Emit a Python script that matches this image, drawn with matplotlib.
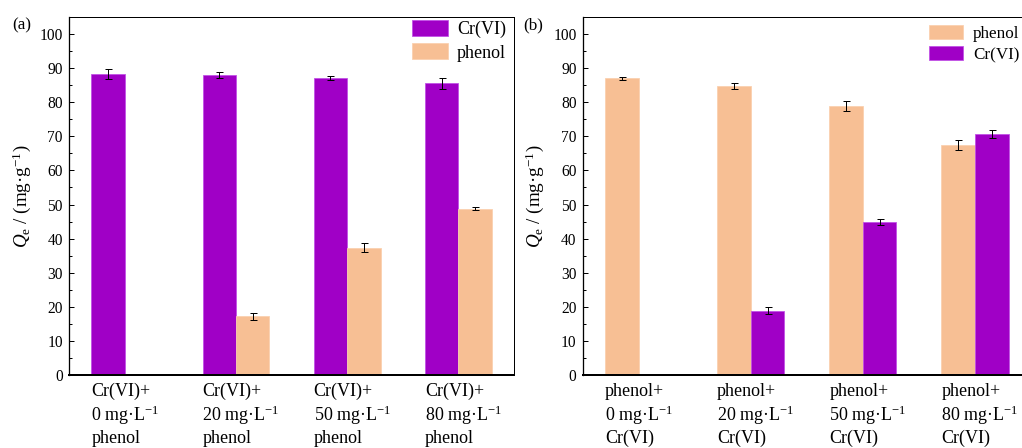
import numpy as np
import matplotlib
matplotlib.use("Agg")
import matplotlib.pyplot as plt
from matplotlib.ticker import MultipleLocator

plt.rcParams["font.family"] = ["Liberation Serif", "DejaVu Serif"]
plt.rcParams["mathtext.fontset"] = "custom"
plt.rcParams["mathtext.rm"] = "Liberation Serif"
plt.rcParams["mathtext.it"] = "Liberation Serif:italic"

# Data
concentrations = ["0", "20", "50", "80"]

cr_a = [88.2, 87.9, 87.1, 85.5]
cr_a_err = [1.5, 0.9, 0.7, 1.6]
phenol_a = [0.0, 17.2, 37.3, 48.8]
phenol_a_err = [0.0, 1.1, 1.35, 0.4]

phenol_b = [87.0, 84.8, 79.0, 67.4]
phenol_b_err = [0.4, 0.8, 1.5, 1.4]
cr_b = [0.0, 18.9, 45.0, 70.6]
cr_b_err = [0.0, 1.0, 0.9, 1.2]

PURPLE = "#A000C6"
PEACH = "#F7BF94"

W, H, DPI = 1022, 448, 72
fig = plt.figure(figsize=(W / DPI, H / DPI), dpi=DPI)

ax_a = fig.add_axes([69 / W, 1 - 375 / H, (514 - 69) / W, (375 - 17) / H])
ax_b = fig.add_axes([582.5 / W, 1 - 375 / H, (1031 - 582.5) / W, (375 - 17) / H])

width = 0.3
x = np.arange(len(concentrations))


def draw_bars(ax, vals, errs, color, edge, offset, label):
    ax.bar(x + offset, vals, width, color=color, edgecolor=edge,
           linewidth=0.8, label=label, zorder=2)
    for xi, v, e in zip(x, vals, errs):
        if v > 0:
            ax.errorbar(xi + offset, v, yerr=e, fmt="none", ecolor="black",
                        elinewidth=1.0, capsize=3.5, capthick=1.0, zorder=3)


def style_axes(ax, first, second):
    ax.set_xlim(-0.5, 3.5)
    ax.set_ylim(0, 105)
    ax.yaxis.set_major_locator(MultipleLocator(10))
    ax.yaxis.set_minor_locator(MultipleLocator(5))
    ax.set_yticks(np.arange(0, 101, 10))
    ax.tick_params(axis="y", which="major", direction="in", length=5,
                   width=1.0, labelsize=15.5, pad=6)
    ax.tick_params(axis="y", which="minor", direction="in", length=3, width=1.0)
    ax.tick_params(axis="x", which="both", bottom=False, labelbottom=False)
    ax.spines["bottom"].set_linewidth(2.0)
    ax.spines["left"].set_linewidth(1.3)
    ax.spines["top"].set_linewidth(1.0)
    ax.spines["right"].set_linewidth(1.0)
    ax.set_ylabel(r"$Q_{\mathrm{e}}$ / (mg·g$^{-1}$)", fontsize=19)
    ax.yaxis.set_label_coords(-0.081, 0.5)
    for xi, c in zip(x, concentrations):
        lines = [first + "+", c + r" mg·L$^{-1}$", second]
        for k, line in enumerate(lines):
            ax.annotate(line, xy=(xi - width, 0),
                        xycoords=ax.get_xaxis_transform(),
                        xytext=(0, -16.7 - 23.3 * k), textcoords="offset points",
                        ha="left", va="center", fontsize=18,
                        annotation_clip=False)


# Panel (a): Cr(VI) with added phenol
draw_bars(ax_a, cr_a, cr_a_err, PURPLE, "#C050E6", -width / 2, "Cr(VI)")
draw_bars(ax_a, phenol_a, phenol_a_err, PEACH, "#FAD0AE", width / 2, "phenol")
style_axes(ax_a, "Cr(VI)", "phenol")
ax_a.legend(loc="upper left", bbox_to_anchor=(412 / W, 1 - 20 / H),
            bbox_transform=fig.transFigure, frameon=False, fontsize=18,
            handlelength=2.0, handleheight=1.0, handletextpad=0.5,
            labelspacing=0.28, borderpad=0.0, borderaxespad=0.0)

# Panel (b): phenol with added Cr(VI)
draw_bars(ax_b, phenol_b, phenol_b_err, PEACH, "#FAD0AE", -width / 2, "phenol")
draw_bars(ax_b, cr_b, cr_b_err, PURPLE, "#C050E6", width / 2, "Cr(VI)")
style_axes(ax_b, "phenol", "Cr(VI)")
ax_b.legend(loc="upper left", bbox_to_anchor=(929 / W, 1 - 25 / H),
            bbox_transform=fig.transFigure, frameon=False, fontsize=17,
            handlelength=2.0, handleheight=0.9, handletextpad=0.6,
            labelspacing=0.25, borderpad=0.0, borderaxespad=0.0)

fig.text(12 / W, 1 - 25 / H, "(a)", fontsize=17, ha="left", va="center")
fig.text(523 / W, 1 - 25 / H, "(b)", fontsize=17, ha="left", va="center")

fig.savefig("out.png", dpi=DPI)
